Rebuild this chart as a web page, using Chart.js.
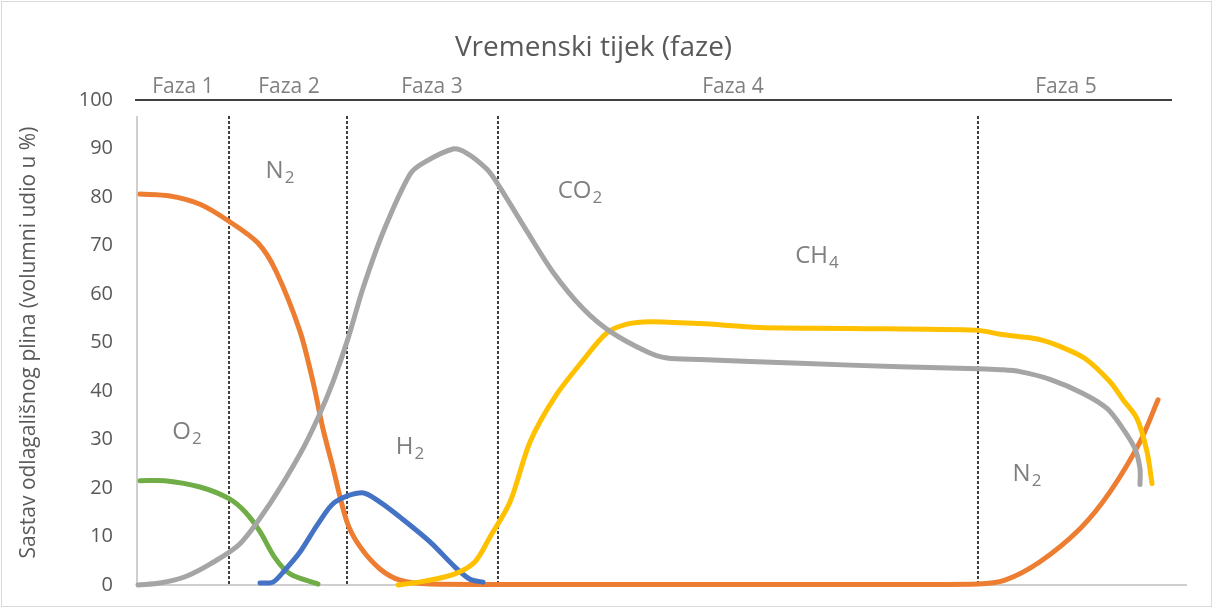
<!DOCTYPE html>
<html>
<head>
<meta charset="utf-8">
<script src="https://cdn.jsdelivr.net/npm/chart.js@4/dist/chart.umd.min.js"></script>
<style>
  html, body { margin: 0; padding: 0; background: #fff; }
  #wrap { width: 1213px; height: 608px; position: relative; }
</style>
</head>
<body>
<div id="wrap"><canvas id="plinChart"></canvas></div>
<script>
// os x: relativno vrijeme (0..105), os y: volumni udio u %
const o2X  = [0.3, 2.8, 6.3, 9.2, 10.8, 12.3, 13.8, 15.3, 18.1];
const o2Y  = [21.5, 21.5, 20.2, 17.8, 15.1, 11, 5.6, 2.3, 0.2];

const n2X  = [0.3, 3.3, 6.3, 9.2, 12.1, 13.9, 16.3, 17.6, 18.6, 19.5, 21, 22.3, 24.3, 26.3, 29.3, 50, 70, 84.1, 86.8, 90.3, 94.3, 97.3, 100.3, 102.1];
const n2Y  = [80.6, 80.2, 78.5, 75, 70.5, 64.7, 52.3, 41.9, 32.2, 25, 13, 7.9, 3.3, 1, 0.2, 0.1, 0.1, 0.2, 1, 4.8, 11.6, 19.2, 29.5, 38.2];

const h2X  = [12.3, 13.6, 14.8, 16.3, 18.1, 19.8, 22.5, 24.3, 26.3, 29.3, 31.8, 33.3, 34.6];
const h2Y  = [0.4, 0.6, 3.1, 6.8, 12.6, 17.1, 19, 17.1, 14, 8.9, 3.7, 1.2, 0.6];

const co2X = [0.1, 2.3, 4.8, 7.3, 10.3, 13.3, 16.3, 18.1, 19.6, 21.1, 22.6, 24.7, 27.3, 28.6, 31.6, 33, 35, 36.1, 39, 41.6, 44.6, 47.3, 51, 53, 56.3, 66.3, 76.3, 84.1, 86.3, 88.3, 91.3, 94.6, 97, 98.6, 99.8, 100.3, 100.3];
const co2Y = [0, 0.4, 1.7, 4.3, 8.5, 16.8, 27, 34.5, 41.9, 50.8, 61.2, 73.2, 84.7, 87, 89.9, 89, 85.7, 82.6, 72.9, 64.5, 57, 52.3, 48.1, 46.8, 46.5, 45.7, 45, 44.6, 44.4, 44, 42.4, 39.5, 36.4, 32.2, 28.1, 24, 20.7];

const ch4X = [26.1, 28.8, 31.8, 33.8, 35.3, 37.3, 39.3, 41.8, 44.6, 47, 49, 51.3, 56.3, 62.3, 71.3, 84.1, 86.3, 88.3, 90.3, 92.3, 94.8, 97.3, 98.6, 100, 101, 101.5];
const ch4Y = [0, 0.8, 2.3, 4.8, 9.9, 17.1, 29.5, 38.8, 46.3, 52, 53.8, 54.3, 53.9, 53.1, 52.9, 52.5, 51.7, 51.2, 50.6, 49.2, 46.7, 41.9, 38.2, 34.3, 27.5, 20.9];

// faze
const phaseNames   = ['Faza 1', 'Faza 2', 'Faza 3', 'Faza 4', 'Faza 5'];
const phaseCenters = [4.6, 15.2, 29.5, 59.6, 92.9];
const phaseBounds  = [9.2, 21, 36.1, 84.1];

// natpisi plinova: [osnova, indeks, x, y]
const gasLabels = [
  ['N', '2', 14.3, 85.3],
  ['O', '2', 5, 31.6],
  ['H', '2', 27.3, 28.5],
  ['CO', '2', 44.3, 81.2],
  ['CH', '4', 68, 67.8],
  ['N', '2', 89, 22.9],
];

const yTicks = [0, 10, 20, 30, 40, 50, 60, 70, 80, 90, 100];

function toPoints(xs, ys) {
  return xs.map((x, i) => ({ x: x, y: ys[i] }));
}

function line(label, xs, ys, color) {
  return {
    label: label,
    data: toPoints(xs, ys),
    borderColor: color,
    backgroundColor: color,
    borderWidth: 5,
    pointRadius: 0,
    tension: 0.3,
    borderCapStyle: 'round',
    borderJoinStyle: 'round',
    clip: false,
  };
}

const FONT = '"Open Sans", Lato, sans-serif';

// dodatni crtezi: faze, isprekidane linije, natpisi, osi
const decorations = {
  id: 'decorations',
  beforeDatasetsDraw(chart) {
    const { ctx, scales: { x, y } } = chart;
    ctx.save();
    // okvir grafikona
    ctx.strokeStyle = '#D9D9D9';
    ctx.lineWidth = 1;
    ctx.strokeRect(1.5, 1.5, chart.width - 3, chart.height - 3);

    // siva os y
    ctx.strokeStyle = '#BFBFBF';
    ctx.lineWidth = 1.5;
    ctx.beginPath();
    ctx.moveTo(x.getPixelForValue(0), y.getPixelForValue(96.7));
    ctx.lineTo(x.getPixelForValue(0), y.getPixelForValue(0));
    ctx.stroke();
    // siva os x
    ctx.beginPath();
    ctx.moveTo(x.getPixelForValue(0), y.getPixelForValue(0));
    ctx.lineTo(x.getPixelForValue(105), y.getPixelForValue(0));
    ctx.stroke();

    // crna linija na 100
    ctx.strokeStyle = '#000';
    ctx.lineWidth = 1.5;
    ctx.beginPath();
    ctx.moveTo(x.getPixelForValue(-0.2), y.getPixelForValue(100));
    ctx.lineTo(x.getPixelForValue(103.5), y.getPixelForValue(100));
    ctx.stroke();

    // isprekidane granice faza
    ctx.setLineDash([3, 2]);
    ctx.lineWidth = 1.5;
    phaseBounds.forEach(function (b) {
      ctx.beginPath();
      ctx.moveTo(x.getPixelForValue(b), y.getPixelForValue(96.7));
      ctx.lineTo(x.getPixelForValue(b), y.getPixelForValue(0));
      ctx.stroke();
    });
    ctx.setLineDash([]);

    // nazivi faza
    ctx.fillStyle = '#808080';
    ctx.font = '21px ' + FONT;
    ctx.textAlign = 'center';
    ctx.textBaseline = 'middle';
    phaseNames.forEach(function (name, i) {
      ctx.fillText(name, x.getPixelForValue(phaseCenters[i]), y.getPixelForValue(102.7));
    });

    // natpisi plinova s indeksom
    ctx.fillStyle = '#7F7F7F';
    gasLabels.forEach(function (g) {
      ctx.font = '24px ' + FONT;
      const wBase = ctx.measureText(g[0]).width;
      ctx.font = '17px ' + FONT;
      const wSub = ctx.measureText(g[1]).width;
      const total = wBase + wSub + 1;
      const px = x.getPixelForValue(g[2]) - total / 2;
      const py = y.getPixelForValue(g[3]);
      ctx.textAlign = 'left';
      ctx.textBaseline = 'middle';
      ctx.font = '24px ' + FONT;
      ctx.fillText(g[0], px, py);
      ctx.font = '17px ' + FONT;
      ctx.fillText(g[1], px + wBase + 1, py + 7);
    });
    ctx.restore();
  },
};

new Chart(document.getElementById('plinChart'), {
  type: 'line',
  data: {
    datasets: [
      line('CO2', co2X, co2Y, '#A5A5A5'),
      line('CH4', ch4X, ch4Y, '#FFC000'),
      line('H2', h2X, h2Y, '#4472C4'),
      line('O2', o2X, o2Y, '#70AD47'),
      line('N2', n2X, n2Y, '#ED7D31'),
    ],
  },
  options: {
    responsive: true,
    maintainAspectRatio: false,
    animation: false,
    layout: {
      padding: { left: 0, right: 26, top: 0, bottom: 23 },
    },
    plugins: {
      legend: { display: false },
      tooltip: { enabled: false },
      title: {
        display: true,
        text: 'Vremenski tijek (faze)',
        color: '#595959',
        font: { family: FONT, size: 28, weight: 'normal' },
        padding: { top: 31, bottom: 35.4 },
      },
    },
    scales: {
      x: {
        type: 'linear',
        min: 0,
        max: 105,
        display: false,
      },
      y: {
        min: 0,
        max: 100,
        afterFit: function (scale) {
          scale.width = 137;
          // bez dodatnog razmaka za natpise na krajevima osi
          scale.paddingTop = 0;
          scale.paddingBottom = 0;
        },
        afterBuildTicks: function (scale) {
          scale.ticks = yTicks.map((v) => ({ value: v }));
        },
        grid: { display: false, drawTicks: false },
        border: { display: false },
        ticks: {
          color: '#595959',
          padding: 24,
          font: { family: FONT, size: 20 },
        },
        title: {
          display: true,
          text: 'Sastav odlagališnog plina (volumni udio u %)',
          color: '#595959',
          font: { family: FONT, size: 21 },
          padding: { top: 16, bottom: 0 },
        },
      },
    },
  },
  plugins: [decorations],
});
</script>
</body>
</html>
